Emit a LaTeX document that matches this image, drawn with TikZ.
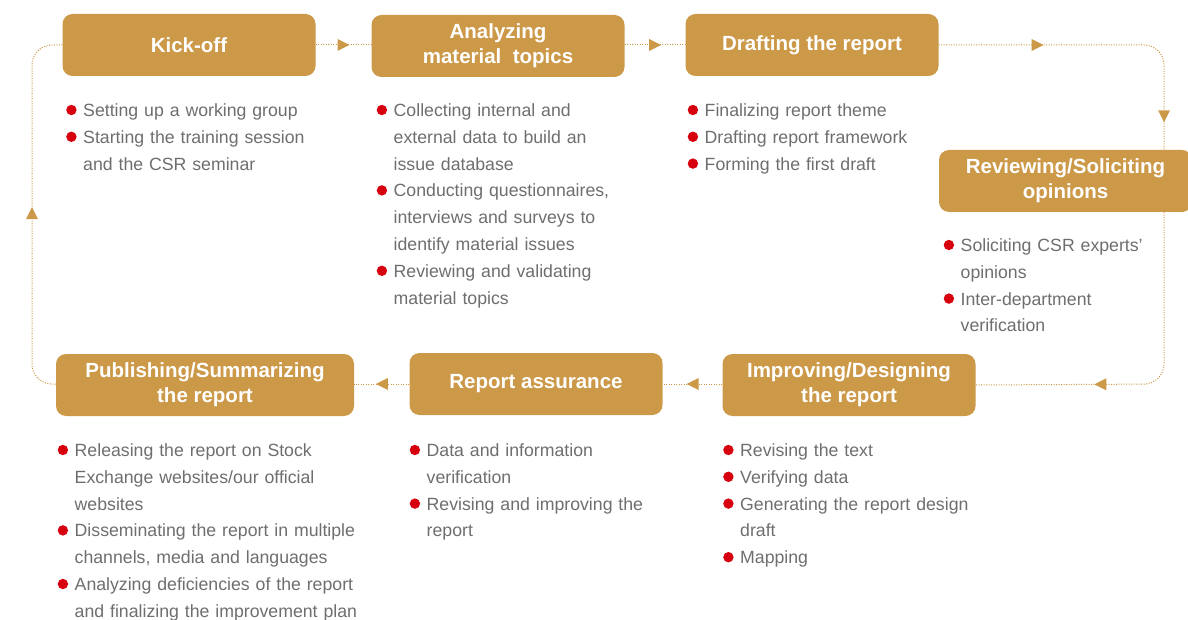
\documentclass[tikz,border=0pt]{standalone}
\usepackage{fontspec}
\setmainfont{Liberation Sans}
\usetikzlibrary{decorations.markings}
\definecolor{gold}{HTML}{CC9948}
\definecolor{dotred}{HTML}{D7000F}
\definecolor{notegrey}{HTML}{6E6E6E}
\newcommand{\itm}{\hyphenpenalty=10000\relax\hangindent=17pt\relax\hangafter=1\relax\noindent\makebox[17pt][l]{\tikz[baseline=-6.5pt]\fill[dotred] (5.2pt,0pt) circle (5.2pt);}}
\begin{document}
\begin{tikzpicture}[x=1pt,y=-1pt,
  phase/.style={fill=gold,rounded corners=10pt,minimum width=253pt,minimum height=62pt,inner sep=0pt,
    text=white,align=center,font=\fontsize{20.5}{25}\selectfont\bfseries},
  notes/.style={anchor=base west,inner sep=0pt,text width=340pt,align=left,text=notegrey,
    font=\fontsize{17.7}{26.8}\selectfont},
  flow/.style={gold,line width=1pt,dash pattern=on 1pt off 1.5pt,rounded corners=20pt},
  tipat/.style={postaction={decorate,decoration={markings,
    mark=at position #1 with {\fill[gold,sharp corners] (6pt,0pt) -- (-6pt,6pt) -- (-6pt,-6pt) -- cycle;}}}}]
\useasboundingbox (0,0) rectangle (1188,620);
\node[phase] (kick) at (189,45) {Kick-off};
\node[phase] (topics) at (498,46) {Analyzing\\material\ \ topics};
\node[phase] (draft) at (812,45) {Drafting the report};
\node[phase] (review) at (1065.5,181) {Reviewing/Soliciting\\opinions};
\node[phase] (design) at (849,385) {Improving/Designing\\the report};
\node[phase] (assure) at (536,384) {Report assurance};
\node[phase,minimum width=298pt] (publish) at (205,385) {Publishing/Summarizing\\the report};
\coordinate (ne) at (1164,45);
\coordinate (se) at (1164,384);
\coordinate (nw) at (32,45);
\coordinate (sw) at (32,384);
\draw[flow,tipat=0.5] (kick) -- (topics.west |- kick);
\draw[flow,tipat=0.5] (topics.east |- draft) -- (draft);
\draw[flow,tipat=99pt,tipat=288pt] (draft.east) -- (ne) -- (review.north -| ne);
\draw[flow,tipat=227pt] (review.south -| se) -- (se) -- (design.west -| design.east);
\draw[flow,tipat=0.5] (design.west |- assure) -- (assure);
\draw[flow,tipat=0.5] (assure) -- (publish.east |- assure);
\draw[flow,tipat=186pt] (publish.west |- sw) -- (sw) -- (nw) -- (kick.west);
\node[notes] (kicknotes) at (66,116.5) {\itm Setting up a working group
  \par\itm Starting the training session\newline and the CSR seminar\par};
\node[notes] (topicnotes) at (376.5,116.5) {\itm Collecting internal and\newline external data to build an\newline issue database
  \par\itm Conducting questionnaires,\newline interviews and surveys to\newline identify material issues
  \par\itm Reviewing and validating\newline material topics\par};
\node[notes] (draftnotes) at (687.5,116.5) {\itm Finalizing report theme
  \par\itm Drafting report framework
  \par\itm Forming the first draft\par};
\node[notes] (reviewnotes) at (943.5,251.5) {\itm Soliciting CSR experts'\newline opinions
  \par\itm Inter-department\newline verification\par};
\node[notes] (designnotes) at (723,456.5) {\itm Revising the text
  \par\itm Verifying data
  \par\itm Generating the report design\newline draft
  \par\itm Mapping\par};
\node[notes] (assurenotes) at (409.5,456.5) {\itm Data and information\newline verification
  \par\itm Revising and improving the\newline report\par};
\node[notes] (publishnotes) at (57.5,456.5) {\itm Releasing the report on Stock\newline Exchange websites/our official\newline websites
  \par\itm Disseminating the report in multiple\newline channels, media and languages
  \par\itm Analyzing deficiencies of the report\newline and finalizing the improvement plan\par};
\end{tikzpicture}
\end{document}
